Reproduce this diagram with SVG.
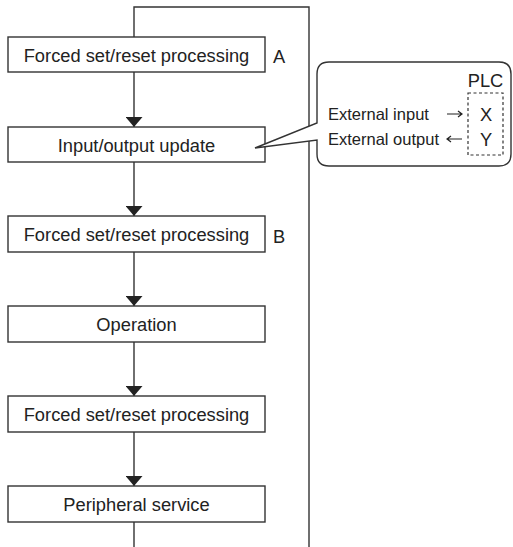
<svg xmlns="http://www.w3.org/2000/svg" width="513" height="547" viewBox="0 0 513 547">
<style>
.box{fill:#fff;stroke:#333;stroke-width:1.4}
.ln{fill:none;stroke:#333;stroke-width:1.4}
.sa{fill:none;stroke:#222;stroke-width:1.2}
.t{font-family:"Liberation Sans",Arial,sans-serif;font-size:18.3px;fill:#222}
.s{font-family:"Liberation Sans",Arial,sans-serif;font-size:16.5px;fill:#222}
</style>
<defs>
<marker id="ah" viewBox="0 0 10 17" refX="10" refY="8.5" markerWidth="10" markerHeight="17" markerUnits="userSpaceOnUse" orient="auto">
<path d="M0,0 L10,8.5 L0,17 z" fill="#222"/>
</marker>
</defs>
<rect width="513" height="547" fill="#fff"/>
<g id="connectors">
<path class="ln" d="M134,37 V7 H309 V547"/>
<line class="ln" x1="134" y1="72" x2="134" y2="127" marker-end="url(#ah)"/>
<line class="ln" x1="134" y1="162" x2="134" y2="216" marker-end="url(#ah)"/>
<line class="ln" x1="134" y1="252" x2="134" y2="306" marker-end="url(#ah)"/>
<line class="ln" x1="134" y1="342" x2="134" y2="396" marker-end="url(#ah)"/>
<line class="ln" x1="134" y1="432" x2="134" y2="486" marker-end="url(#ah)"/>
<line class="ln" x1="134" y1="522" x2="134" y2="547"/>
</g>
<g id="n1">
<rect class="box" x="8" y="37" width="257" height="35"/>
<text class="t" x="136.5" y="61.5" text-anchor="middle">Forced set/reset processing</text>
<text class="t" x="273" y="63">A</text>
</g>
<g id="n2">
<rect class="box" x="8" y="127" width="257" height="35"/>
<text class="t" x="136.5" y="151.5" text-anchor="middle">Input/output update</text>
</g>
<g id="n3">
<rect class="box" x="8" y="216" width="257" height="36"/>
<text class="t" x="136.5" y="241" text-anchor="middle">Forced set/reset processing</text>
<text class="t" x="273" y="243">B</text>
</g>
<g id="n4">
<rect class="box" x="8" y="306" width="257" height="36"/>
<text class="t" x="136.5" y="331" text-anchor="middle">Operation</text>
</g>
<g id="n5">
<rect class="box" x="8" y="396" width="257" height="36"/>
<text class="t" x="136.5" y="421" text-anchor="middle">Forced set/reset processing</text>
</g>
<g id="n6">
<rect class="box" x="8" y="486" width="257" height="36"/>
<text class="t" x="136.5" y="511" text-anchor="middle">Peripheral service</text>
</g>
<g id="callout">
<path class="box" d="M329,62 H499 Q511,62 511,74 V154 Q511,166 499,166 H329 Q317,166 317,154 V140 L255,148 L317,123 V74 Q317,62 329,62 Z"/>
<text class="t" x="485.5" y="87" text-anchor="middle">PLC</text>
<rect x="468" y="93" width="35" height="62" fill="none" stroke="#333" stroke-width="1.2" stroke-dasharray="3,2.5"/>
<text class="t" x="486" y="121" text-anchor="middle">X</text>
<text class="t" x="486" y="146" text-anchor="middle">Y</text>
<text class="s" x="328" y="120">External input</text>
<text class="s" x="328" y="145">External output</text>
<path class="sa" d="M447,114 H462 M458,111 L462,114 L458,117"/>
<path class="sa" d="M447,139 H462 M451,136 L447,139 L451,142"/>
</g>
</svg>
